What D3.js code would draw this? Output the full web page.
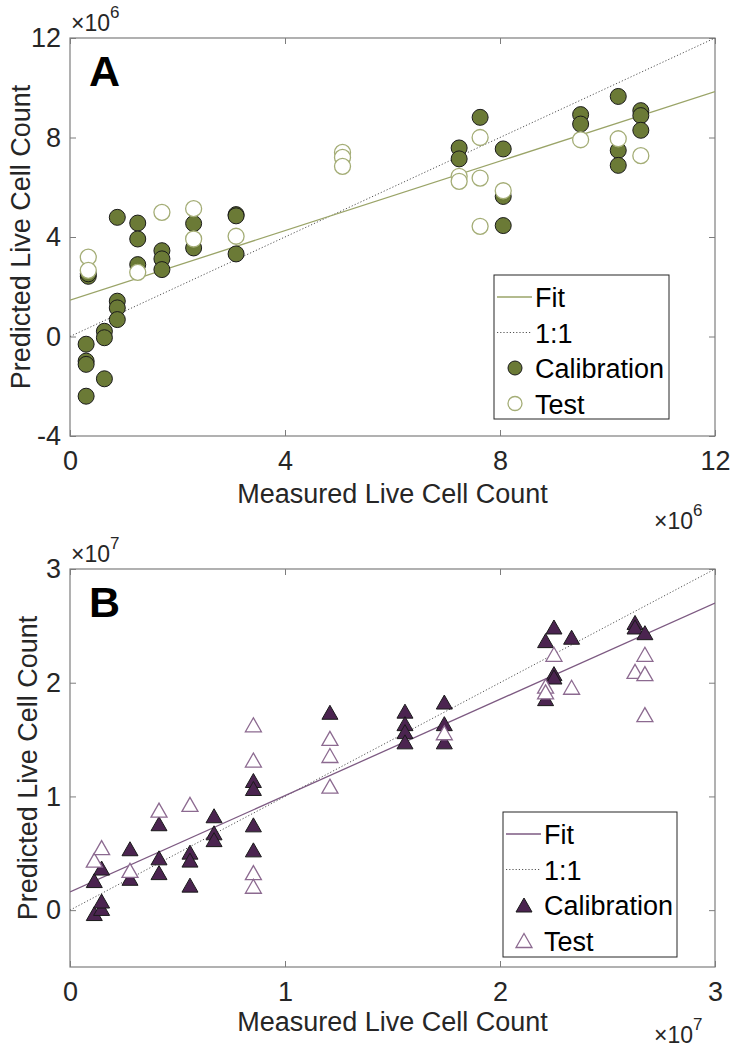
<!DOCTYPE html>
<html>
<head>
<meta charset="utf-8">
<script src="https://cdn.jsdelivr.net/npm/d3@7/dist/d3.min.js"></script>
<style>
  html, body { margin: 0; padding: 0; background: #fff; }
  svg { display: block; font-family: "Liberation Sans", Arial, sans-serif; }
</style>
</head>
<body>
<svg id="chart" width="731" height="1050"></svg>
<script>
// ---------- Panel A data (units of 1e6) ----------
const aCalX = [0.30,0.30,0.30,0.30,0.34,0.34,0.64,0.64,0.64,0.88,0.88,0.88,0.88,1.26,1.26,1.26,1.71,1.71,1.71,2.30,2.30,3.09,3.09,3.09,
               7.24,7.24,7.63,8.06,8.06,8.06,9.50,9.50,10.20,10.20,10.20,10.62,10.62,10.62];
const aCalY = [-0.31,-0.99,-1.12,-2.40,2.42,2.52,0.21,-0.05,-1.70,4.79,1.42,1.15,0.68,4.56,3.92,2.89,3.45,3.12,2.69,4.54,3.56,4.90,4.85,3.32,
               7.58,7.14,8.81,7.54,5.63,4.46,8.92,8.54,9.65,7.48,6.88,9.08,8.88,8.29];
const aTestX = [0.34,0.34,1.26,1.71,2.30,2.30,3.09,5.07,5.07,5.07,7.24,7.24,7.63,7.63,7.63,8.06,9.50,10.20,10.62];
const aTestY = [3.19,2.66,2.58,4.99,5.14,3.92,4.03,7.40,7.20,6.84,6.44,6.24,8.00,6.37,4.43,5.86,7.91,7.95,7.27];
const aFit = { intercept: 1.46, slope: 0.699 };
const aXTicks = [0, 4, 8, 12];
const aYTicks = [-4, 0, 4, 8, 12];

// ---------- Panel B data (units of 1e7) ----------
const bCalX = [0.113,0.147,0.147,0.113,0.147,0.279,0.279,0.414,0.414,0.414,0.558,0.558,0.558,0.670,0.670,0.670,0.853,0.853,0.853,0.853,1.209,
               1.558,1.558,1.558,1.558,1.741,1.741,1.741,2.212,2.212,2.251,2.251,2.251,2.333,2.628,2.628,2.674];
const bCalY = [-0.03,0.015,0.08,0.26,0.37,0.54,0.28,0.76,0.46,0.33,0.51,0.44,0.22,0.83,0.68,0.62,1.14,1.07,0.75,0.53,1.74,
               1.75,1.64,1.57,1.48,1.83,1.64,1.48,2.37,1.86,2.49,2.08,2.05,2.40,2.53,2.49,2.44];
const bTestX = [0.113,0.147,0.279,0.414,0.558,0.853,0.853,0.853,0.853,1.209,1.209,1.209,1.741,2.212,2.212,2.251,2.333,2.628,2.674,2.674,2.674];
const bTestY = [0.44,0.55,0.35,0.88,0.93,1.63,1.32,0.33,0.21,1.51,1.36,1.09,1.56,1.97,1.92,2.25,1.96,2.10,2.25,2.08,1.72];
const bFit = { intercept: 0.16, slope: 0.847 };
const bXTicks = [0, 1, 2, 3];
const bYTicks = [0, 1, 2, 3];

const legendLabels = ["Fit", "1:1", "Calibration", "Test"];

const svg = d3.select("#chart");
const axisColor = "#7d7d7d";
const textColor = "#262626";
const FS = 27;

function trianglePath(cx, cy) {
  const hw = 8, hh = 7;
  return `M${cx},${cy - hh}L${cx + hw},${cy + hh}L${cx - hw},${cy + hh}Z`;
}

function drawPanel(cfg) {
  const { left, right, top, bottom, xDom, yDom, xTicks, yTicks, calX, calY, testX, testY, fit,
          fill, testStroke, fitColor, marker, letter, exp, legendBox, id } = cfg;
  const x = d3.scaleLinear().domain(xDom).range([left, right]);
  const y = d3.scaleLinear().domain(yDom).range([bottom, top]);
  const g = svg.append("g");

  g.append("clipPath").attr("id", "clip" + id).append("rect")
    .attr("x", left).attr("y", top).attr("width", right - left).attr("height", bottom - top);

  const fmt = d => String(d);
  const tickLen = 6;
  const bottomAx = d3.axisBottom(x).tickValues(xTicks).tickSizeInner(-tickLen).tickSizeOuter(0).tickPadding(15).tickFormat(fmt);
  const leftAx = d3.axisLeft(y).tickValues(yTicks).tickSizeInner(-tickLen).tickSizeOuter(0).tickPadding(9).tickFormat(fmt);
  const topAx = d3.axisTop(x).tickValues(xTicks).tickSizeInner(-tickLen).tickSizeOuter(0).tickFormat("");
  const rightAx = d3.axisRight(y).tickValues(yTicks).tickSizeInner(-tickLen).tickSizeOuter(0).tickFormat("");

  const styleAxis = sel => {
    sel.select(".domain").remove();
    sel.selectAll(".tick line").attr("stroke", axisColor);
    sel.selectAll(".tick text").attr("fill", textColor).style("font-size", FS + "px")
      .style("font-family", "'Liberation Sans', Arial, sans-serif");
  };
  g.append("g").attr("transform", `translate(0,${bottom})`).call(bottomAx).call(styleAxis);
  g.append("g").attr("transform", `translate(${left},0)`).call(leftAx).call(styleAxis);
  g.append("g").attr("transform", `translate(0,${top})`).call(topAx).call(styleAxis);
  g.append("g").attr("transform", `translate(${right},0)`).call(rightAx).call(styleAxis);

  g.append("rect").attr("x", left).attr("y", top).attr("width", right - left).attr("height", bottom - top)
    .attr("fill", "none").attr("stroke", axisColor).attr("stroke-width", 1.2);

  const plot = g.append("g").attr("clip-path", `url(#clip${id})`);
  plot.append("line")
    .attr("x1", x(xDom[0])).attr("y1", y(xDom[0])).attr("x2", x(xDom[1])).attr("y2", y(xDom[1]))
    .attr("stroke", "#555").attr("stroke-width", 1).attr("stroke-dasharray", "1.2,2");
  plot.append("line")
    .attr("x1", x(xDom[0])).attr("y1", y(fit.intercept + fit.slope * xDom[0]))
    .attr("x2", x(xDom[1])).attr("y2", y(fit.intercept + fit.slope * xDom[1]))
    .attr("stroke", fitColor).attr("stroke-width", 1.3);

  const cal = d3.zip(calX, calY);
  const test = d3.zip(testX, testY);
  if (marker === "circle") {
    g.append("g").selectAll("circle").data(cal).join("circle")
      .attr("cx", d => x(d[0])).attr("cy", d => y(d[1])).attr("r", 8)
      .attr("fill", fill).attr("stroke", "#1a1a1a").attr("stroke-width", 1);
    g.append("g").selectAll("circle").data(test).join("circle")
      .attr("cx", d => x(d[0])).attr("cy", d => y(d[1])).attr("r", 8)
      .attr("fill", "#fff").attr("stroke", testStroke).attr("stroke-width", 1.3);
  } else {
    g.append("g").selectAll("path").data(cal).join("path")
      .attr("d", d => trianglePath(x(d[0]), y(d[1])))
      .attr("fill", fill).attr("stroke", "#1a1a1a").attr("stroke-width", 1);
    g.append("g").selectAll("path").data(test).join("path")
      .attr("d", d => trianglePath(x(d[0]), y(d[1])))
      .attr("fill", "#fff").attr("stroke", testStroke).attr("stroke-width", 1.3);
  }

  g.append("text").attr("x", left + 19).attr("y", top + 48).text(letter)
    .attr("font-weight", "bold").attr("font-size", 43).attr("fill", "#000");

  const expTop = g.append("text").attr("x", left + 1).attr("y", top - 7).attr("fill", textColor).attr("font-size", 23);
  expTop.append("tspan").text("\u00d710");
  expTop.append("tspan").attr("dy", -13).attr("font-size", 17).text(exp);
  const expBot = g.append("text").attr("x", right - 61).attr("y", bottom + cfg.expBotOff).attr("fill", textColor).attr("font-size", 23);
  expBot.append("tspan").text("\u00d710");
  expBot.append("tspan").attr("dy", -13).attr("font-size", 17).text(exp);

  g.append("text").attr("x", (left + right) / 2).attr("y", bottom + cfg.xTitleOff).attr("text-anchor", "middle")
    .attr("fill", textColor).attr("font-size", FS).text("Measured Live Cell Count");
  g.append("text").attr("transform", `translate(${cfg.ylabX},${(top + bottom) / 2}) rotate(-90)`)
    .attr("text-anchor", "middle").attr("fill", textColor).attr("font-size", FS).text("Predicted Live Cell Count");

  const lb = legendBox;
  const lg = g.append("g");
  lg.append("rect").attr("x", lb.x).attr("y", lb.y).attr("width", lb.w).attr("height", lb.h)
    .attr("fill", "#fff").attr("stroke", "#262626").attr("stroke-width", 1);
  const rowY = i => lb.y + 22 + i * 35.5;
  lg.append("line").attr("x1", lb.x + 3).attr("x2", lb.x + 38).attr("y1", rowY(0)).attr("y2", rowY(0))
    .attr("stroke", fitColor).attr("stroke-width", 1.3);
  lg.append("line").attr("x1", lb.x + 3).attr("x2", lb.x + 38).attr("y1", rowY(1)).attr("y2", rowY(1))
    .attr("stroke", "#555").attr("stroke-width", 1).attr("stroke-dasharray", "1.2,2");
  const mx = lb.x + 21;
  if (marker === "circle") {
    lg.append("circle").attr("cx", mx).attr("cy", rowY(2)).attr("r", 7).attr("fill", fill).attr("stroke", "#1a1a1a");
    lg.append("circle").attr("cx", mx).attr("cy", rowY(3)).attr("r", 7).attr("fill", "#fff").attr("stroke", testStroke).attr("stroke-width", 1.3);
  } else {
    lg.append("path").attr("d", trianglePath(mx, rowY(2))).attr("fill", fill).attr("stroke", "#1a1a1a");
    lg.append("path").attr("d", trianglePath(mx, rowY(3))).attr("fill", "#fff").attr("stroke", testStroke).attr("stroke-width", 1.3);
  }
  lg.selectAll("text.lab").data(legendLabels).join("text").attr("class", "lab")
    .attr("x", lb.x + 41).attr("y", (d, i) => rowY(i) + 10)
    .attr("font-size", FS).attr("fill", "#000").text(d => d);
}

drawPanel({
  id: "A", left: 70, right: 715, top: 38, bottom: 436,
  xDom: [0, 12], yDom: [-4, 12], xTicks: aXTicks, yTicks: aYTicks,
  calX: aCalX, calY: aCalY, testX: aTestX, testY: aTestY, fit: aFit,
  fill: "#6b7a36", testStroke: "#a4ad76", fitColor: "#9aa468", marker: "circle",
  letter: "A", exp: "6", ylabX: 30, xTitleOff: 67, expBotOff: 93,
  legendBox: { x: 494, y: 275, w: 175, h: 144 }
});

drawPanel({
  id: "B", left: 70, right: 715, top: 569, bottom: 967,
  xDom: [0, 3], yDom: [-0.5, 3], xTicks: bXTicks, yTicks: bYTicks,
  calX: bCalX, calY: bCalY, testX: bTestX, testY: bTestY, fit: bFit,
  fill: "#4b2450", testStroke: "#8c6a90", fitColor: "#7d5a82", marker: "triangle",
  letter: "B", exp: "7", ylabX: 37, xTitleOff: 64, expBotOff: 76,
  legendBox: { x: 503, y: 812, w: 174, h: 145 }
});
</script>
</body>
</html>
